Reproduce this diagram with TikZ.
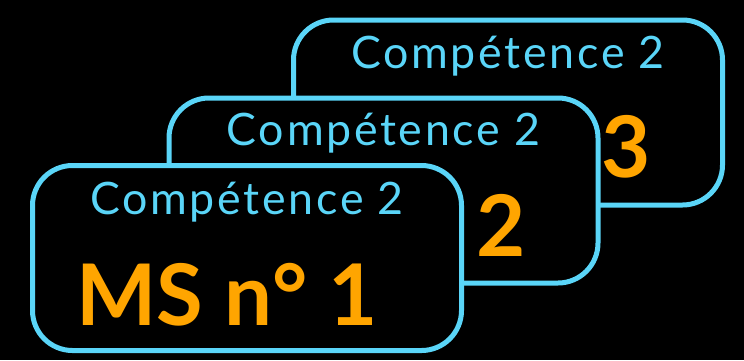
\documentclass[tikz,border=0pt]{standalone}
\usepackage{fontspec}
\usepackage{tikz}
\usetikzlibrary{calc}
\newfontfamily\skillfont{Lato}[LetterSpace=6]
\newfontfamily\numfont{Lato}
\definecolor{sky}{HTML}{5AD5F8}
\definecolor{amber}{HTML}{FFA500}
\tikzset{
  card/.style={draw=sky,line width=5pt,fill=black,rounded corners=40pt,minimum width=429pt,minimum height=185pt,inner sep=0pt},
  skill/.style={text=sky,font=\skillfont\fontsize{44.7}{50}\selectfont,inner sep=0pt,anchor=base},
  msnum/.style={text=amber,font=\numfont\bfseries\fontsize{85}{90}\selectfont,inner sep=0pt},
}

\begin{document}
\begin{tikzpicture}[x=1pt,y=-1pt]
  \fill[black] (0,0) rectangle (744,360);
  \useasboundingbox (0,0) rectangle (744,360);

  % back card
  \node[card] (card3) at (508,112.5) {};
  \node[skill] (skill3) at ($(card3.north)+(0,51)$) {Compétence 2};
  \node[msnum,anchor=base east] (ms3) at ($(card3.south west)+(360,-30)$) {3};

  % middle card
  \node[card] (card2) at (383.5,190.5) {};
  \node[skill] (skill2) at ($(card2.north)+(0,50)$) {Compétence 2};
  \node[msnum,anchor=base east] (ms2) at ($(card2.south west)+(359,-29)$) {2};

  % front card
  \node[card] (card1) at (247,258) {};
  \node[skill] (skill1) at ($(card1.north)+(0,51.5)$) {Compétence 2};
  \node[msnum,anchor=base] (ms1) at ($(card1.south)+(-20,-27.5)$) {MS n° 1};
\end{tikzpicture}
\end{document}
